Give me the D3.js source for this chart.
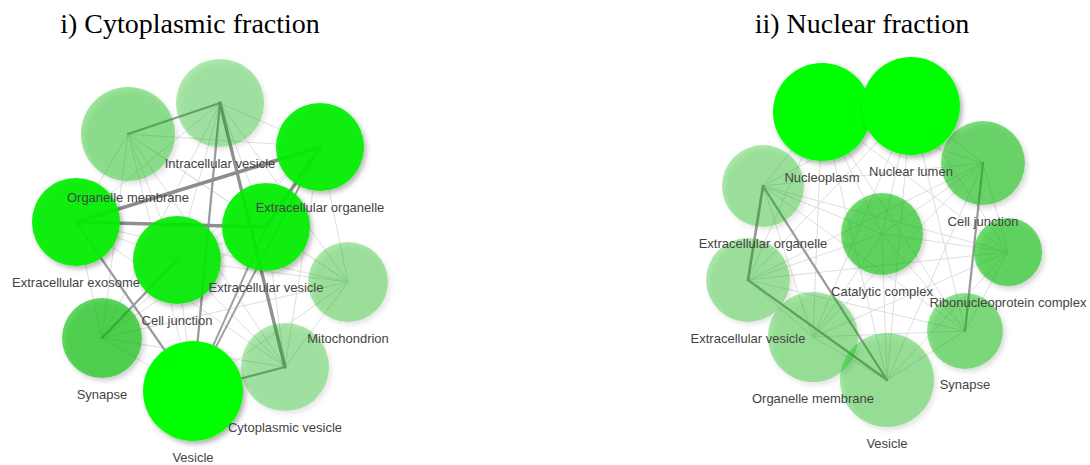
<!DOCTYPE html>
<html>
<head>
<meta charset="utf-8">
<script src="https://cdn.jsdelivr.net/npm/d3@7"></script>
<style>
  html, body { margin: 0; padding: 0; background: #fff; }
  svg { display: block; }
</style>
</head>
<body>
<svg id="chart" width="1090" height="465"></svg>
<script>
// ---------- DATA ----------
const titles = ["i) Cytoplasmic fraction", "ii) Nuclear fraction"];

// Panel i) Cytoplasmic fraction
const cytoTerms = ["Organelle membrane", "Intracellular vesicle", "Extracellular organelle",
  "Extracellular exosome", "Cell junction", "Extracellular vesicle", "Mitochondrion",
  "Synapse", "Vesicle", "Cytoplasmic vesicle"];
const cytoLayoutX = [27, 50, 75, 14, 39.25, 61.5, 82, 20.5, 43.25, 66.25];
const cytoLayoutY = [21, 13.25, 24.25, 43, 52.5, 44.25, 58, 72, 85.25, 79.25];
const cytoGenes = [221, 194, 194, 194, 194, 194, 160, 160, 250, 194];
const cytoSignif = [0.1, 0.0, 0.88, 0.88, 0.85, 0.88, 0.03, 0.45, 1.0, 0.0];
const cytoEdges = [
  ["Intracellular vesicle", "Cytoplasmic vesicle", 8],
  ["Extracellular exosome", "Extracellular organelle", 9],
  ["Extracellular exosome", "Extracellular vesicle", 8],
  ["Extracellular organelle", "Extracellular vesicle", 8],
  ["Organelle membrane", "Intracellular vesicle", 5],
  ["Intracellular vesicle", "Vesicle", 5],
  ["Cell junction", "Synapse", 5],
  ["Extracellular exosome", "Vesicle", 5],
  ["Vesicle", "Cytoplasmic vesicle", 5],
  ["Vesicle", "Extracellular vesicle", 4],
  ["Vesicle", "Extracellular organelle", 4],
  ["Organelle membrane", "Extracellular exosome", 1],
  ["Organelle membrane", "Cell junction", 1],
  ["Organelle membrane", "Synapse", 1],
  ["Organelle membrane", "Extracellular vesicle", 1],
  ["Organelle membrane", "Extracellular organelle", 1],
  ["Organelle membrane", "Vesicle", 1],
  ["Organelle membrane", "Mitochondrion", 1],
  ["Organelle membrane", "Cytoplasmic vesicle", 1],
  ["Intracellular vesicle", "Extracellular organelle", 1],
  ["Intracellular vesicle", "Extracellular exosome", 1],
  ["Intracellular vesicle", "Cell junction", 1],
  ["Intracellular vesicle", "Extracellular vesicle", 1],
  ["Intracellular vesicle", "Mitochondrion", 1],
  ["Intracellular vesicle", "Synapse", 1],
  ["Extracellular organelle", "Mitochondrion", 1],
  ["Extracellular organelle", "Cell junction", 1],
  ["Extracellular organelle", "Cytoplasmic vesicle", 1],
  ["Extracellular organelle", "Synapse", 1],
  ["Extracellular exosome", "Cell junction", 1],
  ["Extracellular exosome", "Synapse", 1],
  ["Extracellular exosome", "Mitochondrion", 1],
  ["Extracellular exosome", "Cytoplasmic vesicle", 1],
  ["Cell junction", "Extracellular vesicle", 1],
  ["Cell junction", "Vesicle", 1],
  ["Cell junction", "Mitochondrion", 1],
  ["Cell junction", "Cytoplasmic vesicle", 1],
  ["Extracellular vesicle", "Mitochondrion", 1],
  ["Extracellular vesicle", "Cytoplasmic vesicle", 1],
  ["Extracellular vesicle", "Synapse", 1],
  ["Mitochondrion", "Cytoplasmic vesicle", 1],
  ["Mitochondrion", "Vesicle", 1],
  ["Mitochondrion", "Synapse", 1],
  ["Synapse", "Vesicle", 1],
  ["Synapse", "Cytoplasmic vesicle", 1]
];

// Panel ii) Nuclear fraction
const nucTerms = ["Nucleoplasm", "Nuclear lumen", "Extracellular organelle", "Cell junction",
  "Catalytic complex", "Ribonucleoprotein complex", "Extracellular vesicle",
  "Organelle membrane", "Vesicle", "Synapse"];
const nucLayoutX = [35.5, 57.75, 20.75, 75.75, 50.5, 82, 17, 33.25, 51.75, 71.25];
const nucLayoutY = [15.5, 14, 34, 28.25, 46, 50.5, 57.5, 71.75, 82.5, 70.25];
const nucGenes = [240, 240, 168, 176, 168, 116, 176, 203, 221, 144];
const nucSignif = [1.0, 1.0, 0.03, 0.3, 0.35, 0.35, 0.03, 0.05, 0.05, 0.2];
const nucEdges = [
  ["Extracellular organelle", "Extracellular vesicle", 6],
  ["Extracellular organelle", "Vesicle", 5],
  ["Extracellular vesicle", "Vesicle", 5],
  ["Cell junction", "Synapse", 5],
  ["Nucleoplasm", "Nuclear lumen", 1],
  ["Nucleoplasm", "Extracellular organelle", 1],
  ["Nucleoplasm", "Cell junction", 1],
  ["Nucleoplasm", "Catalytic complex", 1],
  ["Nucleoplasm", "Ribonucleoprotein complex", 1],
  ["Nucleoplasm", "Extracellular vesicle", 1],
  ["Nucleoplasm", "Organelle membrane", 1],
  ["Nucleoplasm", "Vesicle", 1],
  ["Nucleoplasm", "Synapse", 1],
  ["Nuclear lumen", "Extracellular organelle", 1],
  ["Nuclear lumen", "Cell junction", 1],
  ["Nuclear lumen", "Catalytic complex", 1],
  ["Nuclear lumen", "Ribonucleoprotein complex", 1],
  ["Nuclear lumen", "Extracellular vesicle", 1],
  ["Nuclear lumen", "Organelle membrane", 1],
  ["Nuclear lumen", "Vesicle", 1],
  ["Nuclear lumen", "Synapse", 1],
  ["Extracellular organelle", "Cell junction", 1],
  ["Extracellular organelle", "Catalytic complex", 1],
  ["Extracellular organelle", "Ribonucleoprotein complex", 1],
  ["Extracellular organelle", "Organelle membrane", 1],
  ["Extracellular organelle", "Synapse", 1],
  ["Cell junction", "Catalytic complex", 1],
  ["Cell junction", "Ribonucleoprotein complex", 1],
  ["Cell junction", "Extracellular vesicle", 1],
  ["Cell junction", "Organelle membrane", 1],
  ["Cell junction", "Vesicle", 1],
  ["Catalytic complex", "Ribonucleoprotein complex", 1],
  ["Catalytic complex", "Extracellular vesicle", 1],
  ["Catalytic complex", "Organelle membrane", 1],
  ["Catalytic complex", "Vesicle", 1],
  ["Catalytic complex", "Synapse", 1],
  ["Ribonucleoprotein complex", "Extracellular vesicle", 1],
  ["Ribonucleoprotein complex", "Organelle membrane", 1],
  ["Ribonucleoprotein complex", "Vesicle", 1],
  ["Ribonucleoprotein complex", "Synapse", 1],
  ["Extracellular vesicle", "Organelle membrane", 1],
  ["Extracellular vesicle", "Synapse", 1],
  ["Organelle membrane", "Vesicle", 1],
  ["Organelle membrane", "Synapse", 1],
  ["Vesicle", "Synapse", 1]
];

// ---------- DRAW ----------
const svg = d3.select("#chart");
const defs = svg.append("defs");
const f = defs.append("filter").attr("id", "shadow")
  .attr("x", "-30%").attr("y", "-30%").attr("width", "160%").attr("height", "160%");
f.append("feDropShadow").attr("dx", 2.5).attr("dy", 3).attr("stdDeviation", 2.5)
  .attr("flood-color", "#000").attr("flood-opacity", 0.3);

const rScale = d3.scaleSqrt().domain([0, 250]).range([0, 50]);
const alphaScale = d3.scaleLinear().domain([0, 1]).range([0.31, 1]);
const baseColor = d3.scaleLinear().domain([0, 0.5, 1]).range(["#00bc00", "#00c000", "#00ff00"]);
const edgeWidth = d3.scaleLinear().domain([1, 10]).range([0.9, 4]);
const edgeColor = d3.scaleLinear().domain([1, 4, 10]).range(["#dadada", "#a0a0a0", "#888888"]);

const panels = [
  { title: titles[0], tx: 20, ty: 50, titleX: 190, names: cytoTerms, lx: cytoLayoutX, ly: cytoLayoutY, genes: cytoGenes, sig: cytoSignif, edges: cytoEdges },
  { title: titles[1], tx: 680, ty: 50, titleX: 862, names: nucTerms, lx: nucLayoutX, ly: nucLayoutY, genes: nucGenes, sig: nucSignif, edges: nucEdges }
];

panels.forEach(p => {
  svg.append("text")
    .attr("x", p.titleX).attr("y", 33)
    .attr("text-anchor", "middle")
    .style("font-family", "'Liberation Serif', 'Times New Roman', serif")
    .style("font-size", "28px")
    .attr("fill", "#000")
    .text(p.title);

  const x = d3.scaleLinear().domain([0, 100]).range([0, 400]);
  const y = d3.scaleLinear().domain([0, 100]).range([0, 400]);
  const g = svg.append("g").attr("transform", `translate(${p.tx},${p.ty})`);

  const nodes = p.names.map((n, i) => ({
    name: n, x: x(p.lx[i]), y: y(p.ly[i]), r: rScale(p.genes[i]), s: p.sig[i]
  }));
  const byName = new Map(nodes.map(d => [d.name, d]));
  const edges = p.edges.map(e => ({ a: byName.get(e[0]), b: byName.get(e[1]), w: e[2] }))
    .sort((m, n) => m.w - n.w);

  g.append("g").selectAll("line").data(edges).join("line")
    .attr("x1", d => d.a.x).attr("y1", d => d.a.y)
    .attr("x2", d => d.b.x).attr("y2", d => d.b.y)
    .attr("stroke", d => edgeColor(d.w))
    .attr("stroke-width", d => edgeWidth(d.w))
    .attr("stroke-linecap", "round");

  g.append("g").selectAll("circle").data(nodes).join("circle")
    .attr("cx", d => d.x).attr("cy", d => d.y).attr("r", d => d.r)
    .attr("fill", d => baseColor(d.s))
    .attr("fill-opacity", d => alphaScale(d.s))
    .attr("filter", "url(#shadow)");

  g.append("g").selectAll("text").data(nodes).join("text")
    .attr("x", d => d.x).attr("y", d => d.y + d.r + 16)
    .attr("dy", "0.35em")
    .attr("text-anchor", "middle")
    .style("font-family", "'Liberation Sans', Arial, sans-serif")
    .style("font-size", "13px")
    .attr("fill", "#444")
    .text(d => d.name);
});
</script>
</body>
</html>
